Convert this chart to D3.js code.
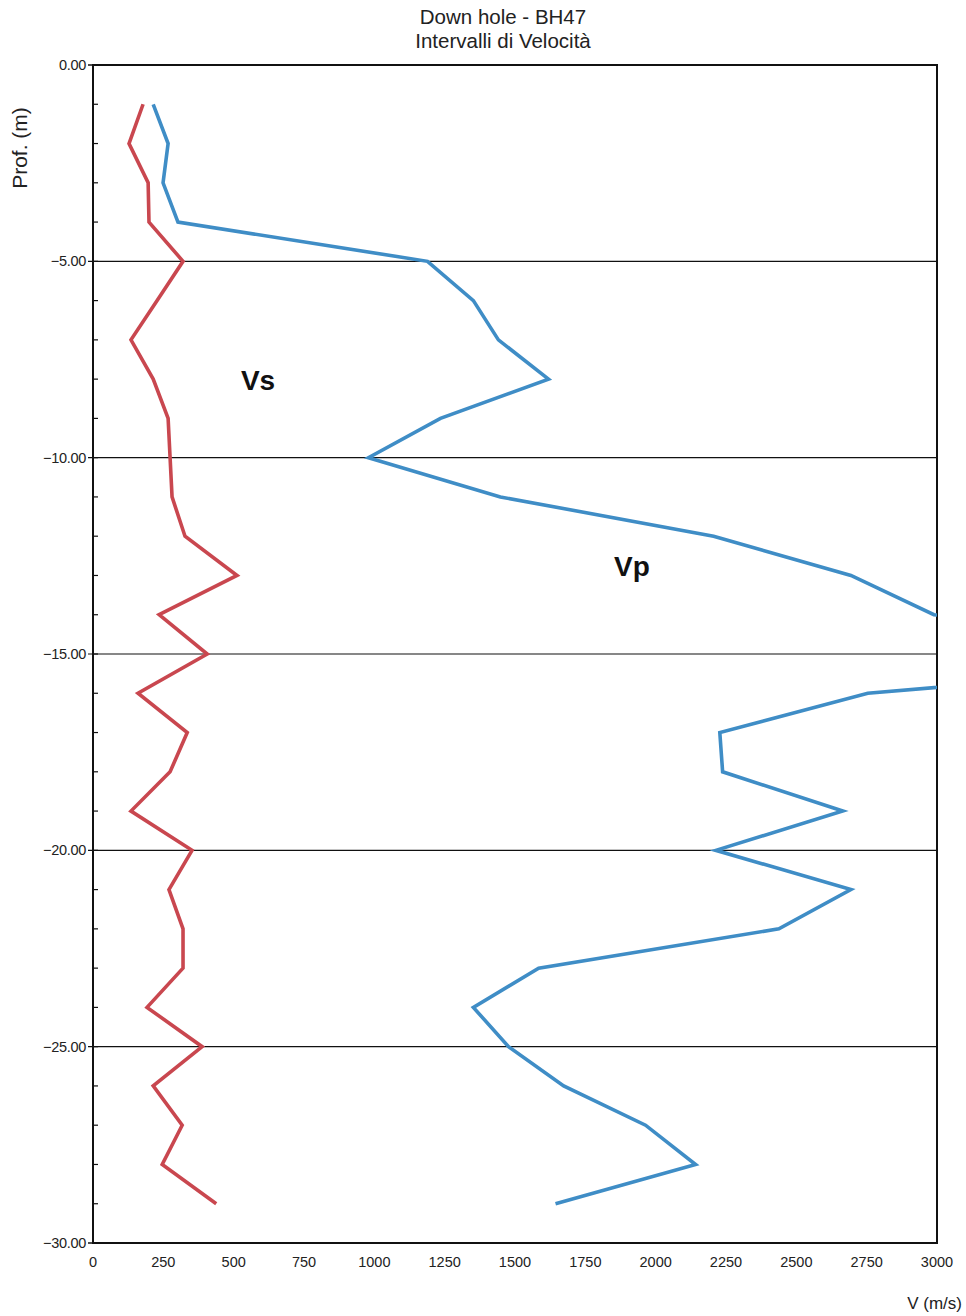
<!DOCTYPE html>
<html>
<head>
<meta charset="utf-8">
<script src="https://cdn.jsdelivr.net/npm/d3@7/dist/d3.min.js"></script>
<style>
  html, body { margin: 0; padding: 0; background: #fff; }
  svg { display: block; font-family: "Liberation Sans", Arial, sans-serif; }
</style>
</head>
<body>
<svg id="chart" width="966" height="1316"></svg>
<script>
// ---- data ----
const depths = [-1,-2,-3,-4,-5,-6,-7,-8,-9,-10,-11,-12,-13,-14,-15,-16,-17,-18,-19,-20,-21,-22,-23,-24,-25,-26,-27,-28,-29];
const vsValues = [178,128,196,199,320,228,135,214,267,274,281,327,512,235,406,160,335,274,135,352,270,320,320,192,388,214,317,246,438];
const vpValues = [214,267,249,302,1189,1352,1441,1619,1235,979,1448,2206,2694,2989,4400,2754,2228,2238,2665,2214,2694,2438,1584,1352,1477,1673,1964,2142,1644];
const xTicks = [0,250,500,750,1000,1250,1500,1750,2000,2250,2500,2750,3000];
const yTicks = [0,-5,-10,-15,-20,-25,-30];
const yMinorTicks = d3.range(0, -31, -1);
const titleLines = ["Down hole - BH47", "Intervalli di Velocità"];

const svg = d3.select("#chart");
const L = 93, R = 937, T = 65, B = 1243;
const x = d3.scaleLinear().domain([0, 3000]).range([L, R]);
const y = d3.scaleLinear().domain([0, -30]).range([T, B]);

// clip
svg.append("defs").append("clipPath").attr("id", "plotclip")
  .append("rect").attr("x", L).attr("y", T).attr("width", R - L).attr("height", B - T);

// title
svg.append("g").selectAll("text").data(titleLines).join("text")
  .attr("x", 503).attr("y", (d, i) => 24 + i * 24)
  .attr("text-anchor", "middle").attr("font-size", 20.5).attr("fill", "#222")
  .text(d => d);

// gridlines (horizontal) at major ticks
svg.append("g").selectAll("line").data(yTicks.filter(d => d !== 0 && d !== -30)).join("line")
  .attr("x1", L - 5).attr("x2", R).attr("y1", d => y(d)).attr("y2", d => y(d))
  .attr("stroke", "#111").attr("stroke-width", 1.2);

// minor ticks inside
svg.append("g").selectAll("line").data(yMinorTicks).join("line")
  .attr("x1", L).attr("x2", L + 5).attr("y1", d => y(d)).attr("y2", d => y(d))
  .attr("stroke", "#111").attr("stroke-width", 1.2);

// major ticks outside at 0 and -30
svg.append("g").selectAll("line").data([0, -30]).join("line")
  .attr("x1", L - 5).attr("x2", L).attr("y1", d => y(d)).attr("y2", d => y(d))
  .attr("stroke", "#111").attr("stroke-width", 1.5);

// frame
svg.append("rect").attr("x", L).attr("y", T).attr("width", R - L).attr("height", B - T)
  .attr("fill", "none").attr("stroke", "#111").attr("stroke-width", 2);

// y tick labels
svg.append("g").selectAll("text").data(yTicks).join("text")
  .attr("x", L - 7).attr("y", d => y(d) + 5)
  .attr("text-anchor", "end").attr("font-size", 14.5).attr("fill", "#222")
  .attr("letter-spacing", "-0.3")
  .text(d => d3.format(".2f")(d));

// x tick labels
svg.append("g").selectAll("text").data(xTicks).join("text")
  .attr("x", d => x(d)).attr("y", B + 24)
  .attr("text-anchor", "middle").attr("font-size", 14.5).attr("fill", "#222")
  .text(d => d);

// axis titles
svg.append("text").attr("transform", "translate(27,148) rotate(-90)")
  .attr("text-anchor", "middle").attr("font-size", 21).attr("fill", "#222")
  .text("Prof. (m)");
svg.append("text").attr("x", 962).attr("y", 1309)
  .attr("text-anchor", "end").attr("font-size", 17).attr("fill", "#222")
  .text("V (m/s)");

// lines
const line = (vals) => d3.line().x((d, i) => x(vals[i])).y(d => y(d))(depths);
const plot = svg.append("g").attr("clip-path", "url(#plotclip)");
plot.append("path").attr("d", line(vpValues))
  .attr("fill", "none").attr("stroke", "#3f8dc6").attr("stroke-width", 3.6)
  .attr("stroke-linejoin", "miter");
plot.append("path").attr("d", line(vsValues))
  .attr("fill", "none").attr("stroke", "#c9474f").attr("stroke-width", 3.6)
  .attr("stroke-linejoin", "miter");

// series labels
svg.append("text").attr("x", 258).attr("y", 390).attr("text-anchor", "middle")
  .attr("font-size", 28).attr("font-weight", "bold").attr("fill", "#111").text("Vs");
svg.append("text").attr("x", 632).attr("y", 576).attr("text-anchor", "middle")
  .attr("font-size", 28).attr("font-weight", "bold").attr("fill", "#111").text("Vp");
</script>
</body>
</html>
